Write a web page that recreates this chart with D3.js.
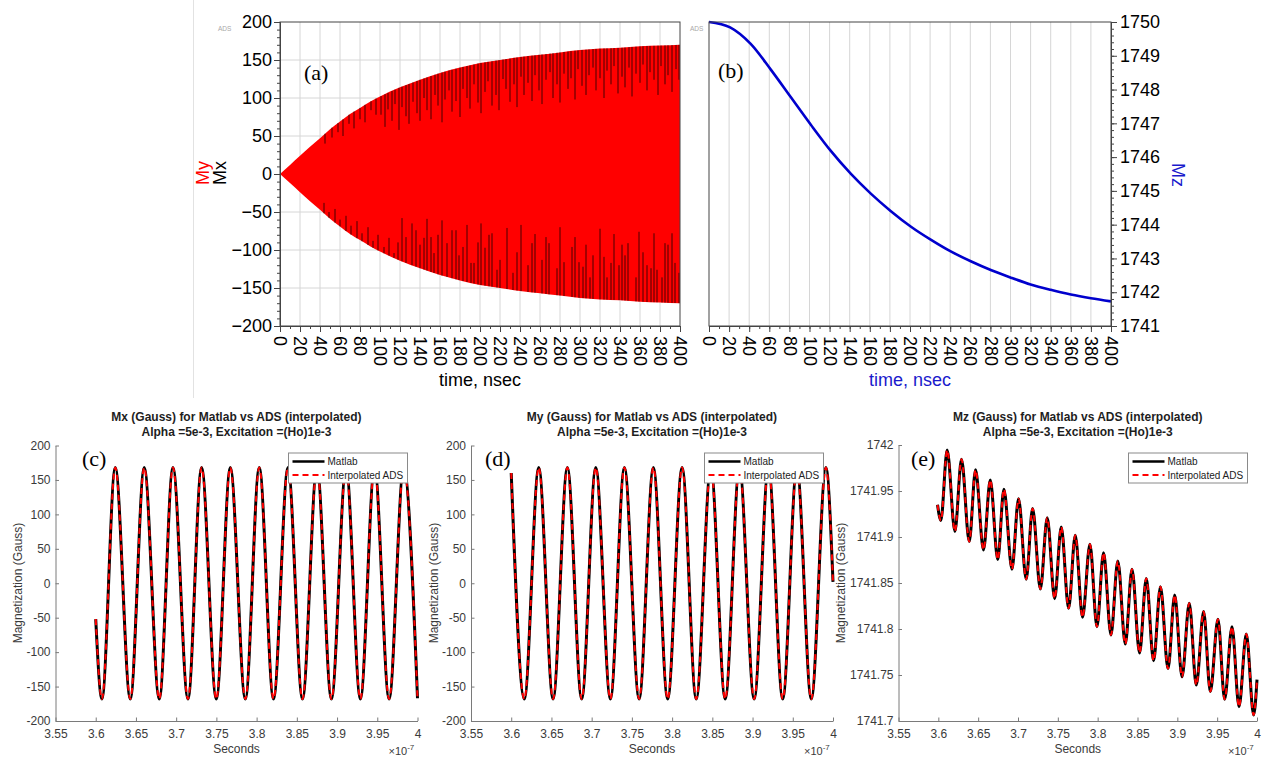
<!DOCTYPE html>
<html>
<head>
<meta charset="utf-8">
<script src="https://cdn.jsdelivr.net/npm/d3@7"></script>
<style>
  body { margin: 0; background: #fff; }
  svg { display: block; }
</style>
</head>
<body>
<svg id="fig" width="1270" height="763"></svg>
<script>
// ---------------- data ----------------
// (a) transverse magnetisation: envelope of the precessing Mx / My signals
const envTime = [0, 10, 20, 30, 40, 50, 60, 70, 80, 90, 100, 120, 140, 160, 180, 200, 220, 240, 260, 280, 300, 320, 340, 360, 380, 400];
const envAmp  = [0, 12, 24, 36, 47, 59, 69, 79, 87, 95, 102, 114, 124, 133, 140, 146, 150, 154, 157, 160, 163, 165, 166, 168, 169, 170];
// visible Mx (black) excursions: [time ns, inner end value]
const mxLowSpikes = [
  [44,-38],[49,-50],[55,-46],[60,-60],[66,-55],[71,-68],[77,-62],[82,-78],[88,-70],[93,-88],[98,-80],
  [104,-96],[109,-84],[114,-104],[118,-90],
  [122,-58],[126,-83],[132,-65],[136,-74],[140,-93],[144,-84],[147,-59],[151,-83],[154,-104],[158,-80],
  [162,-61],[167,-91],[172,-74],[176,-74],[179,-107],[183,-96],[187,-67],[191,-117],[194,-117],[198,-90],
  [201,-65],[205,-97],[209,-80],[212,-78],[217,-126],[220,-113],[227,-71],[233,-130],[237,-103],[241,-67],
  [248,-120],[252,-91],[255,-79],[262,-113],[266,-83],[269,-91],[277,-124],[280,-70],[284,-116],[292,-96],
  [295,-83],[299,-116],[303,-122],[306,-93],[310,-136],[313,-107],[320,-72],[324,-109],[327,-136],[331,-117],
  [334,-79],[339,-120],[342,-93],[345,-107],[348,-91],[356,-136],[359,-76],[363,-103],[367,-120],[371,-124],
  [374,-78],[377,-126],[382,-136],[385,-91],[388,-93],[392,-78],[395,-117],[399,-130]
];
const mxHighSpikes = [
  [45,40],[52,48],[58,55],[63,50],[69,66],[74,60],[80,72],[85,68],[91,84],[96,78],
  [101,78],[105,62],[108,85],[112,70],[115,92],[119,58],[122,88],[126,76],[129,66],[133,95],[137,80],
  [140,70],[144,100],[147,84],[151,72],[155,104],[158,90],[162,68],[165,98],[169,110],[172,82],[176,96],
  [180,75],[183,112],[187,100],[190,86],[194,118],[198,94],[201,80],[205,108],[208,122],[212,90],[216,104],
  [219,84],[223,125],[226,112],[230,95],[234,118],[237,88],[241,128],[244,104],[248,120],[252,96],[255,130],
  [259,110],[262,92],[266,124],[270,134],[273,100],[277,118],[280,94],[284,132],[288,112],[291,126],[295,98],
  [298,138],[302,116],[306,104],[309,130],[313,140],[316,110],[320,126],[324,100],[327,136],[331,118],[334,142],
  [338,106],[342,128],[345,114],[349,140],[352,102],[356,132],[360,120],[363,144],[367,110],[370,134],[374,124],
  [378,104],[381,142],[385,118],[388,130],[392,108],[396,138],[399,124]
];
// (b) longitudinal magnetisation Mz
const mzTime  = [0, 21, 41.5, 61.5, 81.5, 101.5, 121, 141, 161, 181, 201, 221, 241, 261, 281, 300.5, 320, 340, 360, 380, 400];
const mzValue = [1750, 1749.84, 1749.35, 1748.59, 1747.77, 1746.95, 1746.19, 1745.51, 1744.92, 1744.40, 1743.94,
                 1743.55, 1743.20, 1742.91, 1742.65, 1742.43, 1742.23, 1742.07, 1741.93, 1741.82, 1741.73];

// (c)(d)(e) Matlab vs interpolated ADS, time in units of 1e-7 s (extrema of each trace)
const mxSeries = [
  [3.6,-52],[3.6077,-168],[3.6243,168],[3.643,-168],[3.6603,168],[3.679,-168],[3.696,168],[3.7147,-168],
  [3.7316,168],[3.7499,-168],[3.7673,168],[3.786,-168],[3.8033,168],[3.821,-168],[3.839,168],[3.857,-168],
  [3.875,168],[3.893,-168],[3.9112,168],[3.929,-168],[3.9466,168],[3.9647,-168],[3.9828,168],[4.0,-167]
];
const mySeries = [
  [3.6,160],[3.6163,-168],[3.6342,168],[3.652,-168],[3.6698,168],[3.6876,-168],[3.7051,168],[3.7233,-168],
  [3.7407,168],[3.759,-168],[3.7767,168],[3.7945,-168],[3.8124,168],[3.830,-168],[3.8481,168],[3.866,-168],
  [3.8837,168],[3.902,-168],[3.9198,168],[3.9375,-168],[3.9551,168],[3.973,-168],[3.9912,168],[4.0,2]
];
const mzSeries = [
  [3.599,1741.935],[3.6032,1741.918],[3.6111,1741.9946],[3.6208,1741.906],[3.6291,1741.9845],[3.6388,1741.895],
  [3.6467,1741.973],[3.6567,1741.886],[3.6652,1741.962],[3.6746,1741.8755],[3.6823,1741.952],[3.6924,1741.865],
  [3.7007,1741.9416],[3.7103,1741.854],[3.7183,1741.931],[3.7281,1741.8435],[3.7367,1741.921],[3.746,1741.833],
  [3.7543,1741.911],[3.7635,1741.8225],[3.7719,1741.902],[3.781,1741.8127],[3.7903,1741.892],[3.7991,1741.8025],
  [3.8074,1741.883],[3.8167,1741.7935],[3.8253,1741.874],[3.8347,1741.7837],[3.8431,1741.865],[3.8526,1741.774],
  [3.861,1741.855],[3.8702,1741.7655],[3.8788,1741.846],[3.8883,1741.757],[3.8967,1741.837],[3.9059,1741.748],
  [3.915,1741.828],[3.9238,1741.739],[3.933,1741.819],[3.9414,1741.732],[3.951,1741.8105],[3.9594,1741.7236],
  [3.9686,1741.8025],[3.9774,1741.7155],[3.9866,1741.7946],[3.9958,1741.7065],[4.0,1741.745]
];

// tick labels
const nsTicks   = [0,20,40,60,80,100,120,140,160,180,200,220,240,260,280,300,320,340,360,380,400];
const mxyTicks  = [-200,-150,-100,-50,0,50,100,150,200];
const mzTicks   = [1741,1742,1743,1744,1745,1746,1747,1748,1749,1750];
const secTicks  = [3.55,3.6,3.65,3.7,3.75,3.8,3.85,3.9,3.95,4];
const secLabels = ["3.55","3.6","3.65","3.7","3.75","3.8","3.85","3.9","3.95","4"];
const magTicks  = [-200,-150,-100,-50,0,50,100,150,200];
const mzFineTicks  = [1741.7,1741.75,1741.8,1741.85,1741.9,1741.95,1742];
const mzFineLabels = ["1741.7","1741.75","1741.8","1741.85","1741.9","1741.95","1742"];

// ---------------- drawing ----------------
const svg = d3.select("#fig");
const SANS = "'Liberation Sans', Arial, Helvetica, sans-serif";
const SERIF = "'Liberation Serif', 'Times New Roman', serif";

// thin divider on the left of the upper row
svg.append("line").attr("x1", 193.5).attr("x2", 193.5).attr("y1", 0).attr("y2", 398)
  .attr("stroke", "#e2e2e2").attr("stroke-width", 1);

function styleTopAxis(g) {
  g.selectAll("path.domain").attr("stroke", "#444");
  g.selectAll(".tick line").attr("stroke", "#444");
  g.selectAll("text").attr("font-family", SANS).attr("font-size", 18).attr("fill", "#000");
}

// ---- panel (a) ----
const xA = d3.scaleLinear([0, 400], [280, 680]);
const yA = d3.scaleLinear([-200, 200], [326, 22]);
const gA = svg.append("g");

gA.selectAll("line.vg").data(nsTicks.slice(1, -1)).join("line")
  .attr("x1", d => xA(d)).attr("x2", d => xA(d)).attr("y1", yA(200)).attr("y2", yA(-200))
  .attr("stroke", "#d6d6d6");
gA.selectAll("line.hg").data(mxyTicks.slice(1, -1)).join("line")
  .attr("x1", xA(0)).attr("x2", xA(400)).attr("y1", d => yA(d)).attr("y2", d => yA(d))
  .attr("stroke", "#d6d6d6");

const envIdx = envTime.map((t, i) => i);
const band = d3.area()
  .x(i => xA(envTime[i]))
  .y0(i => yA(-envAmp[i]))
  .y1(i => yA(envAmp[i]))
  .curve(d3.curveMonotoneX);
gA.append("path").attr("d", band(envIdx)).attr("fill", "#ff0000");

const envAt = d3.scaleLinear(envTime, envAmp);
const spikes = gA.append("g").attr("stroke", "#000").attr("stroke-width", 0.9).attr("stroke-opacity", 0.8);
spikes.selectAll("line.lo").data(mxLowSpikes).join("line")
  .attr("x1", d => xA(d[0])).attr("x2", d => xA(d[0]))
  .attr("y1", d => yA(d[1])).attr("y2", d => yA(-envAt(d[0])));
spikes.selectAll("line.hi").data(mxHighSpikes).join("line")
  .attr("x1", d => xA(d[0])).attr("x2", d => xA(d[0]))
  .attr("y1", d => yA(d[1])).attr("y2", d => yA(envAt(d[0])));

gA.append("rect").attr("x", xA(0)).attr("y", yA(200))
  .attr("width", xA(400) - xA(0)).attr("height", yA(-200) - yA(200))
  .attr("fill", "none").attr("stroke", "#444");

const minorNs = d3.range(0, 401, 10);
gA.append("g").attr("transform", `translate(0,${yA(-200)})`)
  .call(d3.axisBottom(xA).tickValues(minorNs).tickSize(3).tickFormat(""))
  .call(styleTopAxis);
const axA = gA.append("g").attr("transform", `translate(0,${yA(-200)})`)
  .call(d3.axisBottom(xA).tickValues(nsTicks).tickSize(6).tickSizeOuter(0))
  .call(styleTopAxis);
axA.selectAll("text").attr("x", 0).attr("y", 0).attr("dy", "0.35em")
  .attr("transform", "translate(0,10) rotate(90)").style("text-anchor", "start");

gA.append("g").attr("transform", `translate(${xA(0)},0)`)
  .call(d3.axisLeft(yA).tickValues(d3.range(-200, 201, 10)).tickSize(3).tickFormat(""))
  .call(styleTopAxis);
gA.append("g").attr("transform", `translate(${xA(0)},0)`)
  .call(d3.axisLeft(yA).tickValues(mxyTicks).tickSize(6).tickPadding(2).tickSizeOuter(0).tickFormat(d3.format("d")))
  .call(styleTopAxis);

gA.append("text").attr("x", xA(200)).attr("y", 386).attr("text-anchor", "middle")
  .attr("font-family", SANS).attr("font-size", 18).text("time, nsec");
gA.append("text").attr("transform", "translate(209,173) rotate(-90)").attr("text-anchor", "middle")
  .attr("font-family", SANS).attr("font-size", 18).attr("fill", "#ff0000").text("My");
gA.append("text").attr("transform", "translate(226,173) rotate(-90)").attr("text-anchor", "middle")
  .attr("font-family", SANS).attr("font-size", 18).attr("fill", "#000").text("Mx");
gA.append("text").attr("x", 304).attr("y", 80).attr("font-family", SERIF).attr("font-size", 22).text("(a)");
gA.append("text").attr("x", 218).attr("y", 30.5).attr("font-family", SANS).attr("font-size", 6.5)
  .attr("fill", "#a8a8a8").text("ADS");

// ---- panel (b) ----
const xB = d3.scaleLinear([0, 400], [709, 1111]);
const yB = d3.scaleLinear([1741, 1750], [326, 22]);
const gB = svg.append("g");

gB.selectAll("line.vg").data(nsTicks.slice(1, -1)).join("line")
  .attr("x1", d => xB(d)).attr("x2", d => xB(d)).attr("y1", yB(1750)).attr("y2", yB(1741))
  .attr("stroke", "#d6d6d6");

const mzIdx = mzTime.map((t, i) => i);
const mzLine = d3.line().x(i => xB(mzTime[i])).y(i => yB(mzValue[i])).curve(d3.curveMonotoneX);
gB.append("path").attr("d", mzLine(mzIdx)).attr("fill", "none")
  .attr("stroke", "#0000cd").attr("stroke-width", 2.6);

gB.append("rect").attr("x", xB(0)).attr("y", yB(1750))
  .attr("width", xB(400) - xB(0)).attr("height", yB(1741) - yB(1750))
  .attr("fill", "none").attr("stroke", "#444");

gB.append("g").attr("transform", `translate(0,${yB(1741)})`)
  .call(d3.axisBottom(xB).tickValues(minorNs).tickSize(3).tickFormat(""))
  .call(styleTopAxis);
const axB = gB.append("g").attr("transform", `translate(0,${yB(1741)})`)
  .call(d3.axisBottom(xB).tickValues(nsTicks).tickSize(6).tickSizeOuter(0))
  .call(styleTopAxis);
axB.selectAll("text").attr("x", 0).attr("y", 0).attr("dy", "0.35em")
  .attr("transform", "translate(0,10) rotate(90)").style("text-anchor", "start");

gB.append("g").attr("transform", `translate(${xB(400)},0)`)
  .call(d3.axisRight(yB).tickValues(d3.range(0, 46).map(i => 1741 + i * 0.2)).tickSize(3).tickFormat(""))
  .call(styleTopAxis);
gB.append("g").attr("transform", `translate(${xB(400)},0)`)
  .call(d3.axisRight(yB).tickValues(mzTicks).tickSize(6).tickPadding(3).tickSizeOuter(0).tickFormat(d3.format("d")))
  .call(styleTopAxis);

gB.append("text").attr("x", xB(200)).attr("y", 386).attr("text-anchor", "middle")
  .attr("font-family", SANS).attr("font-size", 18).attr("fill", "#1a1acc").text("time, nsec");
gB.append("text").attr("transform", "translate(1172,175) rotate(90)").attr("text-anchor", "middle")
  .attr("font-family", SANS).attr("font-size", 18).attr("fill", "#1a1acc").text("Mz");
gB.append("text").attr("x", 718).attr("y", 78).attr("font-family", SERIF).attr("font-size", 22).text("(b)");
gB.append("text").attr("x", 690).attr("y", 30.5).attr("font-family", SANS).attr("font-size", 6.5)
  .attr("fill", "#a8a8a8").text("ADS");

// ---- lower row: Matlab vs interpolated ADS ----
const AX = "#7a7a7a", TX = "#3a3a3a";

function comparePanel(o) {
  const x = d3.scaleLinear([3.55, 4], [o.x0, o.x1]);
  const y = d3.scaleLinear(o.yDomain, [o.y1, o.y0]);
  const g = svg.append("g");

  const line = d3.line().x(d => x(d[0])).y(d => y(d[1])).curve(d3.curveMonotoneX);
  g.append("path").attr("d", line(o.series)).attr("fill", "none")
    .attr("stroke", "#000").attr("stroke-width", 3);
  g.append("path").attr("d", line(o.series)).attr("fill", "none")
    .attr("stroke", "#ff0000").attr("stroke-width", 2).attr("stroke-dasharray", "6,4");

  const ax = g.append("g").attr("transform", `translate(0,${o.y1})`)
    .call(d3.axisBottom(x).tickValues(secTicks).tickSize(-3.5).tickPadding(8).tickSizeOuter(0)
      .tickFormat((d, i) => secLabels[i]));
  const ay = g.append("g").attr("transform", `translate(${o.x0},0)`)
    .call(d3.axisLeft(y).tickValues(o.yTicks).tickSize(-3.5).tickPadding(5).tickSizeOuter(0)
      .tickFormat((d, i) => o.yLabels[i]));
  [ax, ay].forEach(a => {
    a.selectAll("path.domain").attr("stroke", AX);
    a.selectAll(".tick line").attr("stroke", AX);
    a.selectAll("text").attr("font-family", SANS).attr("font-size", 12).attr("fill", TX);
  });

  const cx = (o.x0 + o.x1) / 2;
  g.append("text").attr("x", cx).attr("y", 421).attr("text-anchor", "middle")
    .attr("font-family", SANS).attr("font-size", 12).attr("font-weight", "bold").attr("fill", "#1e1e1e")
    .text(o.title);
  g.append("text").attr("x", cx).attr("y", 436).attr("text-anchor", "middle")
    .attr("font-family", SANS).attr("font-size", 12).attr("font-weight", "bold").attr("fill", "#1e1e1e")
    .text("Alpha =5e-3, Excitation =(Ho)1e-3");
  g.append("text").attr("x", cx).attr("y", 753).attr("text-anchor", "middle")
    .attr("font-family", SANS).attr("font-size", 12).attr("fill", TX).text("Seconds");
  const ex = g.append("text").attr("x", o.x1 - 29).attr("y", 755)
    .attr("font-family", SANS).attr("font-size", 11).attr("fill", TX);
  ex.append("tspan").text("×10");
  ex.append("tspan").attr("dy", -5).attr("font-size", 8).text("-7");
  g.append("text").attr("transform", `translate(${o.labelX},583) rotate(-90)`).attr("text-anchor", "middle")
    .attr("font-family", SANS).attr("font-size", 12).attr("fill", TX).text("Magnetization (Gauss)");
  g.append("text").attr("x", o.tagX).attr("y", 466).attr("font-family", SERIF).attr("font-size", 22)
    .text(o.tag);

  // legend
  const lg = g.append("g").attr("transform", `translate(${o.legX},453)`);
  lg.append("rect").attr("width", 119).attr("height", 30).attr("fill", "#fff").attr("stroke", "#8a8a8a");
  lg.append("line").attr("x1", 4).attr("x2", 36).attr("y1", 8.5).attr("y2", 8.5)
    .attr("stroke", "#000").attr("stroke-width", 2.4);
  lg.append("line").attr("x1", 4).attr("x2", 36).attr("y1", 22).attr("y2", 22)
    .attr("stroke", "#ff0000").attr("stroke-width", 2).attr("stroke-dasharray", "6,4");
  lg.append("text").attr("x", 39).attr("y", 12).attr("font-family", SANS).attr("font-size", 10)
    .attr("fill", "#222").text("Matlab");
  lg.append("text").attr("x", 39).attr("y", 25.5).attr("font-family", SANS).attr("font-size", 10)
    .attr("fill", "#222").text("Interpolated ADS");
}

comparePanel({ x0: 55.5, x1: 417.5, y0: 445.5, y1: 721, yDomain: [-200, 200], yTicks: magTicks,
  yLabels: magTicks.map(String), series: mxSeries, title: "Mx (Gauss) for Matlab vs ADS (interpolated)",
  labelX: 22, tagX: 82, tag: "(c)", legX: 288.5 });
comparePanel({ x0: 471, x1: 833, y0: 445.5, y1: 721, yDomain: [-200, 200], yTicks: magTicks,
  yLabels: magTicks.map(String), series: mySeries, title: "My (Gauss) for Matlab vs ADS (interpolated)",
  labelX: 438, tagX: 485, tag: "(d)", legX: 704.5 });
comparePanel({ x0: 898.5, x1: 1257, y0: 445, y1: 721, yDomain: [1741.7, 1742], yTicks: mzFineTicks,
  yLabels: mzFineLabels, series: mzSeries, title: "Mz (Gauss) for Matlab vs ADS (interpolated)",
  labelX: 845, tagX: 911, tag: "(e)", legX: 1128.5 });
</script>
</body>
</html>
